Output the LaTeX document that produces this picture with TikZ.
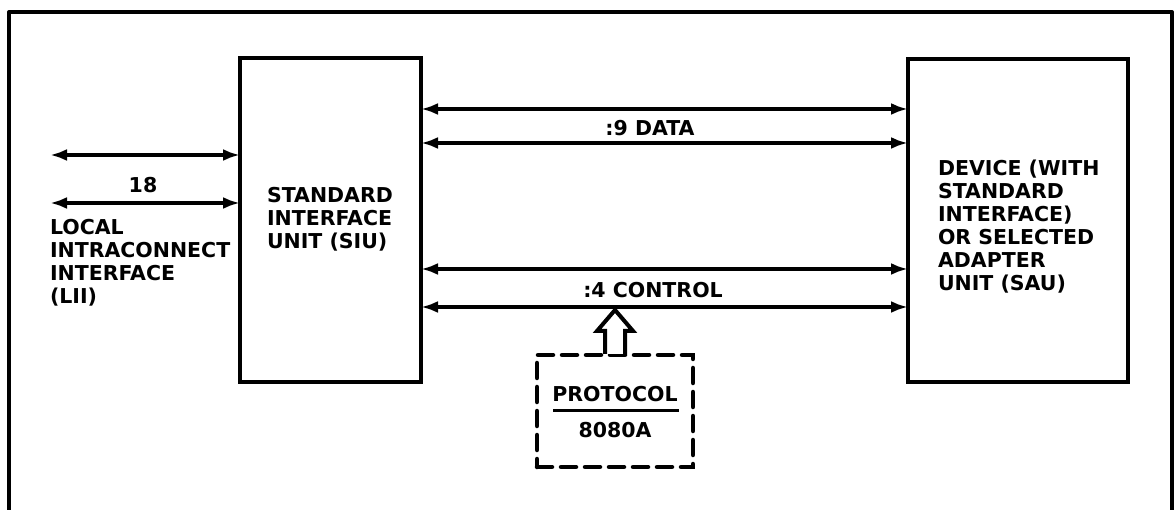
\documentclass[tikz,border=0pt]{standalone}
\usepackage{fontspec}
\setmainfont{DejaVu Sans}
\usetikzlibrary{arrows.meta,calc}
\begin{document}
\begin{tikzpicture}[x=1pt,y=-1pt,
  blk/.style={draw,line width=4.5pt,inner sep=0pt,outer sep=0pt},
  dashblk/.style={draw,line width=4.5pt,inner sep=0pt,outer sep=0pt,dash pattern=on 15pt off 9pt,line cap=round},
  bus/.style={line width=3.8pt,{Latex[length=17pt,width=12pt]}-{Latex[length=17pt,width=12pt]}},
  lbl/.style={font=\fontsize{20.5}{23}\selectfont\bfseries,align=left,inner sep=0pt,outer sep=0pt},
  clbl/.style={font=\fontsize{20.5}{23}\selectfont\bfseries,align=center,inner sep=0pt,outer sep=0pt}]
\useasboundingbox[fill=white] (0,0) rectangle (1175,510);
% outer frame
\draw[line width=4pt,line join=round] (9,514) -- (9,12) -- (1172,12) -- (1172,514);
% blocks
\node[blk,minimum width=181pt,minimum height=324pt] (siu) at (330.5,220) {};
\node[blk,minimum width=220pt,minimum height=323pt] (sau) at (1018,220.5) {};
\node[dashblk,minimum width=156pt,minimum height=112pt] (proto) at (615,411) {};
% block texts
\node[lbl,anchor=north west] (siutxt) at (267,187) {STANDARD\\INTERFACE\\UNIT (SIU)};
\node[lbl,anchor=north west] (sautxt) at (938,160) {DEVICE (WITH\\STANDARD\\INTERFACE)\\OR SELECTED\\ADAPTER\\UNIT (SAU)};
\node[lbl,anchor=north west] (liitxt) at (50,219) {LOCAL\\INTRACONNECT\\INTERFACE\\(LII)};
\node[clbl] (prototxt) at (615,394) {PROTOCOL};
\node[clbl] (cputxt) at (615,430) {8080A};
\draw[line width=2.6pt] ($(prototxt.south)+(-62,9)$) coordinate (pl) -- ($(prototxt.south)+(64,9)$) coordinate (pr);
% bus endpoints
\coordinate (l1) at (50,155);
\coordinate (l2) at (50,203);
\coordinate (d1) at (0,109);
\coordinate (d2) at (0,143);
\coordinate (c1) at (0,269);
\coordinate (c2) at (0,307);
% buses
\draw[bus] (l1) -- (l1 -| siu.west);
\draw[bus] (l2) -- (l2 -| siu.west);
\draw[bus] (d1 -| siu.east) -- (d1 -| sau.west);
\draw[bus] (d2 -| siu.east) -- (d2 -| sau.west);
\draw[bus] (c1 -| siu.east) -- (c1 -| sau.west);
\draw[bus] (c2 -| siu.east) -- (c2 -| sau.west);
% bus labels
\node[clbl] (n18) at (143,185) {18};
\node[clbl] (data) at (650,128) {:9 DATA};
\node[clbl] (ctrl) at (653,290) {:4 CONTROL};
% hollow arrow from protocol box to control bus
\coordinate (tip) at (proto.north |- c2);
\draw[line width=4pt,fill=white,line join=miter]
  ($(proto.north)+(-10,-1)$) -- ++(0,-23) -- ++(-8,0) -- ($(tip)+(0,3)$)
  -- ($(proto.north)+(18,-24)$) -- ++(-8,0) -- ++(0,23);
\end{tikzpicture}
\end{document}
